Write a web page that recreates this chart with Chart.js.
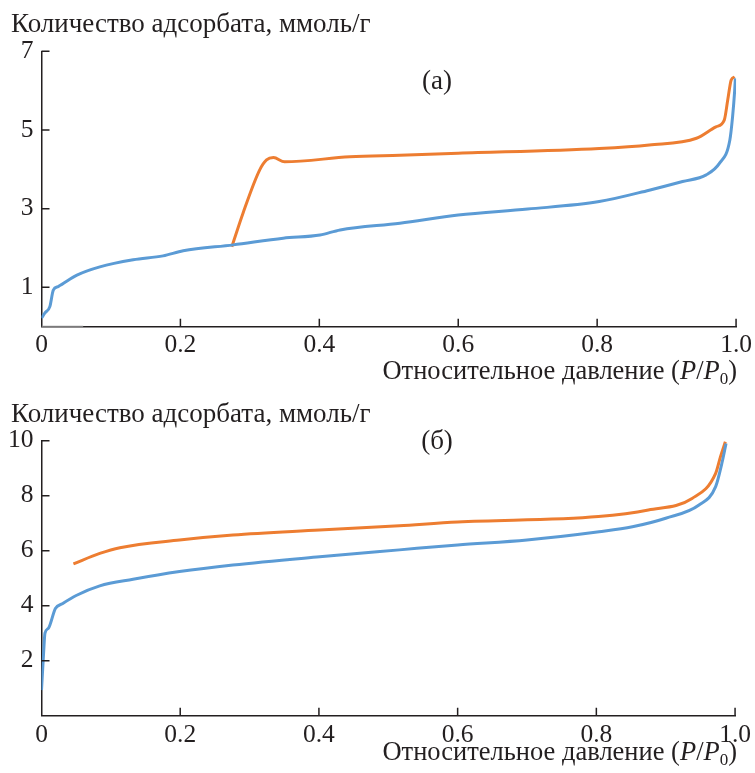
<!DOCTYPE html>
<html>
<head>
<meta charset="utf-8">
<script src="https://cdn.jsdelivr.net/npm/chart.js@4"></script>
<style>
    body { margin: 0; background: #fff; }
    .wrap { position: absolute; left: 0; width: 755px; }
</style>
</head>
<body>
<div class="wrap" style="top:0;height:386px"><canvas id="chartA"></canvas></div>
<div class="wrap" style="top:386px;height:387px"><canvas id="chartB"></canvas></div>
<script>
// (а) adsorption / desorption
var adsA_x = [0, 0.005, 0.012, 0.017, 0.024, 0.051, 0.084, 0.132, 0.175, 0.204, 0.276, 0.348, 0.401, 0.43, 0.516, 0.6, 0.7, 0.803, 0.875, 0.923, 0.957, 0.976, 0.991, 0.995, 0.998, 0.999];
var adsA_y = [0.22, 0.35, 0.51, 0.93, 1.02, 1.31, 1.52, 1.70, 1.80, 1.93, 2.08, 2.25, 2.33, 2.46, 2.63, 2.84, 2.99, 3.18, 3.47, 3.69, 3.86, 4.15, 4.74, 5.34, 6.0, 6.31];
var desA_x = [0.274, 0.29, 0.314, 0.324, 0.334, 0.350, 0.444, 0.516, 0.6, 0.803, 0.875, 0.943, 0.971, 0.983, 0.988, 0.993, 0.998];
var desA_y = [2.03, 2.88, 3.98, 4.24, 4.30, 4.19, 4.32, 4.36, 4.41, 4.53, 4.62, 4.79, 5.08, 5.25, 5.76, 6.27, 6.35];
var baseA_x = [0, 0.06];
var baseA_y = [0, 0];

// (б)
var adsB_x = [0, 0.003, 0.005, 0.01, 0.02, 0.03, 0.05, 0.084, 0.132, 0.199, 0.276, 0.401, 0.516, 0.6, 0.7, 0.804, 0.852, 0.9, 0.948, 0.972, 0.981, 0.987];
var adsB_y = [0.93, 2.27, 3.0, 3.18, 3.9, 4.07, 4.37, 4.72, 4.96, 5.24, 5.48, 5.78, 6.03, 6.21, 6.39, 6.69, 6.87, 7.18, 7.66, 8.33, 9.18, 9.9];
var desB_x = [0.046, 0.084, 0.113, 0.199, 0.276, 0.401, 0.516, 0.6, 0.803, 0.875, 0.938, 0.972, 0.979, 0.986];
var desB_y = [5.52, 5.90, 6.11, 6.39, 6.57, 6.75, 6.91, 7.04, 7.24, 7.48, 7.9, 8.81, 9.42, 9.96];

var xTicks = [0, 0.2, 0.4, 0.6, 0.8, 1.0];
var yTicksA = [1, 3, 5, 7];
var yTicksB = [2, 4, 6, 8, 10];

var BLUE = '#5b9bd5';
var ORANGE = '#ed7d31';
var INK = '#231f20';
var SERIF = '"Liberation Serif", "Times New Roman", serif';

function pts(xs, ys) {
    return xs.map(function(x, i) { return {x: x, y: ys[i]}; });
}

function line(data, color, w) {
    return {
        data: data,
        borderColor: color,
        borderWidth: w || 3,
        pointRadius: 0,
        fill: false,
        cubicInterpolationMode: 'monotone'
    };
}

// inward ticks + texts drawn on top
var decor = {
    id: 'decor',
    afterDraw: function(chart) {
        var o = chart.options.plugins.decor;
        var c = chart.ctx, xs = chart.scales.x, ys = chart.scales.y;
        c.save();
        c.strokeStyle = INK;
        c.lineWidth = 1.5;
        c.beginPath();
        xTicks.forEach(function(v) {
            if (v === 0) return;
            var px = xs.getPixelForValue(v);
            c.moveTo(px, ys.bottom);
            c.lineTo(px, ys.bottom - 8);
        });
        o.yTicks.forEach(function(v) {
            var py = ys.getPixelForValue(v);
            c.moveTo(xs.left, py);
            c.lineTo(xs.left + 8, py);
        });
        c.stroke();

        c.fillStyle = INK;
        c.textBaseline = 'alphabetic';
        // y title
        c.font = '27px ' + SERIF;
        c.textAlign = 'left';
        c.fillText('Количество адсорбата, ммоль/г', 11, o.yTitleBase);
        // panel label
        c.textAlign = 'center';
        c.font = '27px ' + SERIF;
        c.fillText(o.panel, 437, o.panelBase);
        // x title, right aligned, with italic P and subscript 0
        var parts = [
            {t: 'Относительное давление (', f: '26.5px ' + SERIF, dy: 0},
            {t: 'P', f: 'italic 26.5px ' + SERIF, dy: 0},
            {t: '/', f: '26.5px ' + SERIF, dy: 0},
            {t: 'P', f: 'italic 26.5px ' + SERIF, dy: 0},
            {t: '0', f: '17px ' + SERIF, dy: 5},
            {t: ')', f: '26.5px ' + SERIF, dy: 0}
        ];
        var total = 0;
        parts.forEach(function(p) { c.font = p.f; p.w = c.measureText(p.t).width; total += p.w; });
        var x = 737 - total;
        c.textAlign = 'left';
        parts.forEach(function(p) {
            c.font = p.f;
            c.fillText(p.t, x, o.xTitleBase + p.dy);
            x += p.w;
        });
        c.restore();
    }
};

function makeChart(id, datasets, yMax, yTicks, pad, labelPad, decorOpts) {
    return new Chart(document.getElementById(id).getContext('2d'), {
        type: 'line',
        data: {datasets: datasets},
        options: {
            responsive: true,
            maintainAspectRatio: false,
            animation: false,
            events: [],
            layout: {padding: pad},
            plugins: {
                legend: {display: false},
                tooltip: {enabled: false},
                decor: decorOpts
            },
            scales: {
                x: {
                    type: 'linear',
                    min: 0,
                    max: 1,
                    afterBuildTicks: function(s) { s.ticks = xTicks.map(function(v) { return {value: v}; }); },
                    afterFit: function(s) { s.height = 35; },
                    grid: {display: true, drawOnChartArea: false, drawTicks: false},
                    border: {display: true, color: INK, width: 1.5},
                    ticks: {
                        color: INK,
                        padding: labelPad,
                        maxRotation: 0,
                        font: {family: SERIF, size: 25.5},
                        callback: function(v) { return v === 0 ? '0' : v.toFixed(1); }
                    }
                },
                y: {
                    min: 0,
                    max: yMax,
                    afterBuildTicks: function(s) { s.ticks = yTicks.map(function(v) { return {value: v}; }); },
                    afterFit: function(s) { s.width = 41.5; },
                    grid: {display: true, drawOnChartArea: false, drawTicks: false},
                    border: {display: true, color: INK, width: 1.5},
                    ticks: {
                        color: INK,
                        padding: 8,
                        font: {family: SERIF, size: 25.5}
                    }
                }
            }
        },
        plugins: [decor]
    });
}

document.addEventListener("DOMContentLoaded", function() {
    makeChart('chartA', [
        line(pts(adsA_x, adsA_y), BLUE),
        line(pts(desA_x, desA_y), ORANGE),
        line(pts(baseA_x, baseA_y), '#9a9a9a', 2)
    ], 7, yTicksA, {top: 51.3, right: 18.5, bottom: 24.3, left: 0}, 3,
        {yTicks: yTicksA, yTitleBase: 32, panel: '(а)', panelBase: 89, xTitleBase: 379});

    makeChart('chartB', [
        line(pts(adsB_x, adsB_y), BLUE),
        line(pts(desB_x, desB_y), ORANGE)
    ], 10, yTicksB, {top: 54.7, right: 18.5, bottom: 22.3, left: 0}, 4,
        {yTicks: yTicksB, yTitleBase: 35.5, panel: '(б)', panelBase: 63, xTitleBase: 374});
});
</script>
</body>
</html>
